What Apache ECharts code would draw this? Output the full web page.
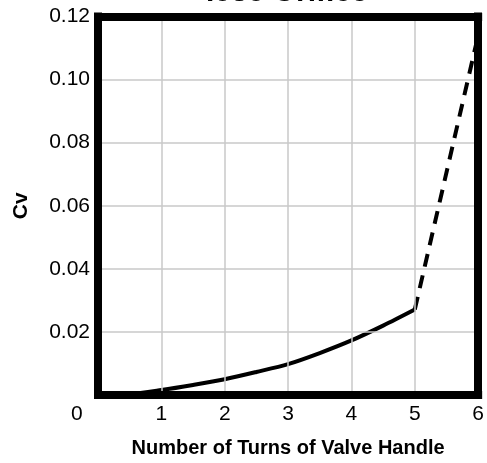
<!DOCTYPE html>
<html>
<head>
<meta charset="utf-8">
<script src="https://cdn.jsdelivr.net/npm/echarts@6/dist/echarts.min.js"></script>
<style>
  html, body { margin: 0; padding: 0; background: #fff; }
  #chart { width: 487px; height: 463px; }
</style>
</head>
<body>
<div id="chart"></div>
<script>
// data
const turns = [0, 0.5, 1, 1.5, 2, 2.5, 3, 3.5, 4, 4.5, 5];
const cvMeasured = [0, 0.0003, 0.0016, 0.0032, 0.005, 0.0073, 0.0098, 0.0133, 0.0173, 0.022, 0.0271];
const extrapTurns = [5, 6];
const cvExtrap = [0.0271, 0.114];
const yTicks = [0, 0.02, 0.04, 0.06, 0.08, 0.1, 0.12];

const font = 'Liberation Sans, Arial, Helvetica, sans-serif';
const frame = { show: true, onZero: false, lineStyle: { color: '#000', width: 8, cap: 'square' } };
const gridLine = { show: true, lineStyle: { color: '#c8c8c8', width: 1.5 } };

const chart = echarts.init(document.getElementById('chart'));

const option = {
  animation: false,
  backgroundColor: '#fff',
  title: {
    text: '.030 Orifice',
    left: 206,
    top: -22,
    padding: 0,
    textStyle: { fontFamily: font, fontWeight: 'bold', fontSize: 30, color: '#000' }
  },
  grid: { left: 98, right: 4, top: 16.5, bottom: 64.5 },
  xAxis: [
    {
      type: 'value',
      min: 0,
      max: 6,
      interval: 1,
      name: 'Number of Turns of Valve Handle',
      nameLocation: 'middle',
      nameGap: 43,
      nameTextStyle: { fontFamily: font, fontWeight: 'bold', fontSize: 20, color: '#000' },
      axisLine: frame,
      axisTick: { show: false },
      axisLabel: { showMinLabel: false, margin: 9, fontFamily: font, fontSize: 21, color: '#000' },
      splitLine: gridLine,
      z: 5
    },
    {
      type: 'value', position: 'top', min: 0, max: 6, interval: 1,
      axisLine: frame, axisTick: { show: false }, axisLabel: { show: false }, splitLine: { show: false },
      z: 5
    }
  ],
  yAxis: [
    {
      type: 'value',
      min: yTicks[0],
      max: yTicks[yTicks.length - 1],
      interval: 0.02,
      name: 'Cv',
      nameLocation: 'middle',
      nameGap: 66,
      nameTextStyle: { fontFamily: font, fontWeight: 'bold', fontSize: 21, color: '#000' },
      axisLine: frame,
      axisTick: { show: false },
      axisLabel: {
        showMinLabel: false,
        margin: 8,
        fontFamily: font,
        fontSize: 21,
        color: '#000',
        formatter: v => v.toFixed(2)
      },
      splitLine: gridLine,
      z: 5
    },
    {
      type: 'value', position: 'right', min: 0, max: 0.12, interval: 0.02,
      axisLine: frame, axisTick: { show: false }, axisLabel: { show: false }, splitLine: { show: false },
      z: 5
    }
  ],
  // shared origin label sits below-left of the corner
  graphic: [{
    type: 'text',
    left: 71,
    top: 404,
    style: { text: '0', font: '21px ' + font, fill: '#000' }
  }],
  series: [
    {
      type: 'line',
      data: turns.map((t, i) => [t, cvMeasured[i]]),
      smooth: 0.3,
      symbol: 'none',
      lineStyle: { color: '#000', width: 4 },
      z: 3
    },
    {
      type: 'line',
      data: extrapTurns.map((t, i) => [t, cvExtrap[i]]),
      symbol: 'none',
      lineStyle: { color: '#000', width: 4, type: [13, 9] },
      z: 3
    }
  ]
};

chart.setOption(option);
</script>
</body>
</html>
